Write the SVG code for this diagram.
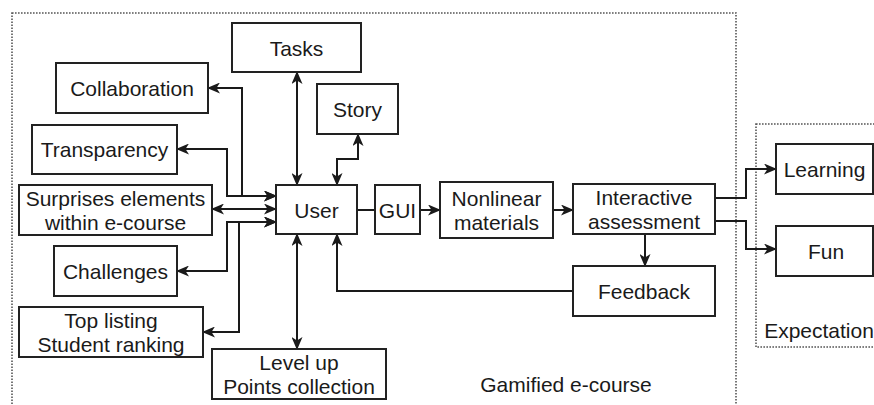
<svg xmlns="http://www.w3.org/2000/svg" width="874" height="405" viewBox="0 0 874 405">
<style>
.box{fill:#fff;stroke:#222;stroke-width:2}
.t{font-family:"Liberation Sans",Arial,sans-serif;font-size:21px;fill:#1a1a1a;text-anchor:middle;dominant-baseline:central}
.c{fill:none;stroke:#1a1a1a;stroke-width:2}
.ab{marker-start:url(#ah);marker-end:url(#ah)}
.ae{marker-end:url(#ah)}
.grp{fill:none;stroke:#555;stroke-width:1.6;stroke-dasharray:1.6 1.4}
</style>
<defs>
<marker id="ah" viewBox="0 0 13 11" refX="12" refY="5.5" markerWidth="13" markerHeight="11" markerUnits="userSpaceOnUse" orient="auto-start-reverse">
<path d="M0,0 L13,5.5 L0,11 L3.5,5.5 Z" fill="#1a1a1a"/>
</marker>
</defs>
<g id="containers">
<rect class="grp" x="12" y="13" width="724" height="400"/>
<rect class="grp" x="756" y="124" width="130" height="223"/>
<text class="t" x="566" y="384">Gamified e-course</text>
<text class="t" x="819" y="330">Expectation</text>
</g>
<g id="connectors">
<path class="c ab" d="M297,72 V185"/>
<path class="c ab" d="M358,134 V159 H337 V185"/>
<path class="c ab" d="M276,196 H242 V88 H208"/>
<path class="c ab" d="M276,196 H227 V149 H177"/>
<path class="c ab" d="M276,209 H212"/>
<path class="c ab" d="M276,222 H227 V271 H177"/>
<path class="c ab" d="M276,222 H239 V332 H203"/>
<path class="c ab" d="M297,234 V349"/>
<path class="c ae" d="M573,291 H337 V234"/>
<path class="c" d="M357,210 H375"/>
<path class="c ae" d="M420,210 H440"/>
<path class="c ae" d="M553,210 H573"/>
<path class="c ae" d="M645,234 V266"/>
<path class="c ae" d="M715,198 H746 V169 H776"/>
<path class="c ae" d="M715,221 H746 V249 H776"/>
</g>
<g id="tasks"><rect class="box" x="232" y="23" width="129" height="49"/><text class="t" x="296.5" y="48">Tasks</text></g>
<g id="story"><rect class="box" x="317" y="84" width="81" height="50"/><text class="t" x="357.5" y="109">Story</text></g>
<g id="collaboration"><rect class="box" x="56" y="63" width="152" height="50"/><text class="t" x="132" y="88">Collaboration</text></g>
<g id="transparency"><rect class="box" x="32" y="125" width="145" height="49"/><text class="t" x="104.5" y="149.5">Transparency</text></g>
<g id="surprises"><rect class="box" x="19" y="185" width="193" height="50"/><text class="t" x="115.5" y="198">Surprises elements</text><text class="t" x="115.5" y="222">within e-course</text></g>
<g id="challenges"><rect class="box" x="54" y="246" width="123" height="50"/><text class="t" x="115.5" y="271">Challenges</text></g>
<g id="toplisting"><rect class="box" x="19" y="307" width="184" height="50"/><text class="t" x="111" y="320">Top listing</text><text class="t" x="111" y="344">Student ranking</text></g>
<g id="levelup"><rect class="box" x="212" y="349" width="174" height="50"/><text class="t" x="299" y="362">Level up</text><text class="t" x="299" y="386">Points collection</text></g>
<g id="user"><rect class="box" x="276" y="185" width="81" height="49"/><text class="t" x="316.5" y="210">User</text></g>
<g id="gui"><rect class="box" x="375" y="185" width="45" height="49"/><text class="t" x="397.5" y="210">GUI</text></g>
<g id="nonlinear"><rect class="box" x="440" y="182" width="113" height="56"/><text class="t" x="496.5" y="198">Nonlinear</text><text class="t" x="496.5" y="222">materials</text></g>
<g id="interactive"><rect class="box" x="573" y="184" width="142" height="50"/><text class="t" x="644" y="197">Interactive</text><text class="t" x="644" y="221">assessment</text></g>
<g id="feedback"><rect class="box" x="573" y="266" width="142" height="50"/><text class="t" x="644" y="291">Feedback</text></g>
<g id="learning"><rect class="box" x="776" y="144" width="97" height="50"/><text class="t" x="824.5" y="169">Learning</text></g>
<g id="fun"><rect class="box" x="776" y="226" width="97" height="50"/><text class="t" x="826" y="251">Fun</text></g>
</svg>
